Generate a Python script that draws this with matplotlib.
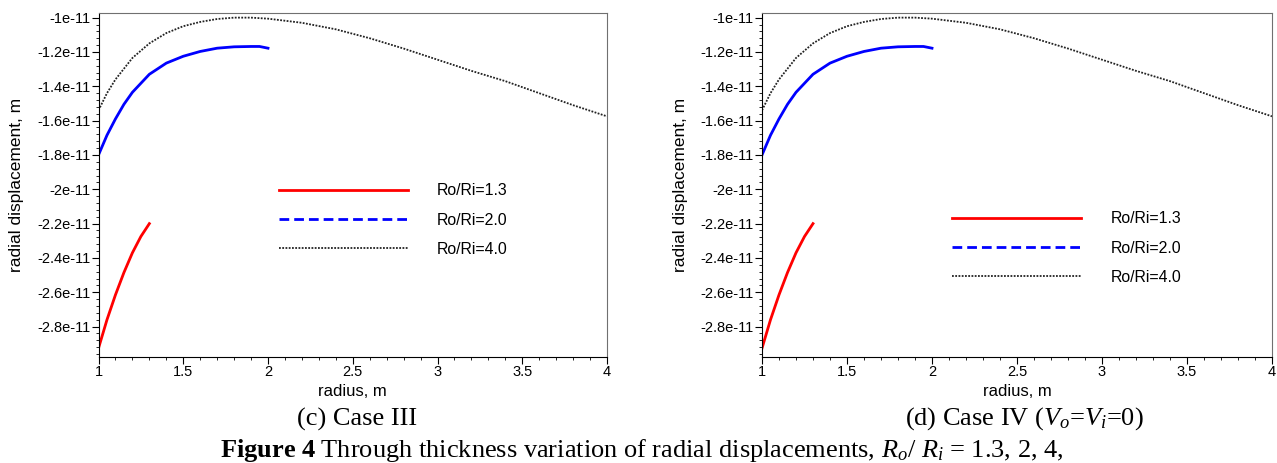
import matplotlib
matplotlib.use("Agg")
import matplotlib.pyplot as plt
from matplotlib.lines import Line2D
from matplotlib.ticker import MultipleLocator, FuncFormatter

plt.rcParams['font.family'] = ['Liberation Sans', 'DejaVu Sans']
plt.rcParams['mathtext.fontset'] = 'custom'
plt.rcParams['mathtext.rm'] = 'Liberation Serif'
plt.rcParams['mathtext.it'] = 'Liberation Serif:italic'
plt.rcParams['mathtext.bf'] = 'Liberation Serif:bold'

# radial displacement values, in units of 1e-11 m
r_13 = [1.0, 1.05, 1.10, 1.15, 1.20, 1.25, 1.30]
u_13 = [-2.926, -2.76, -2.615, -2.485, -2.37, -2.275, -2.20]

r_20 = [1.0, 1.05, 1.1, 1.15, 1.2, 1.3, 1.4, 1.5, 1.6, 1.7, 1.8, 1.9, 1.95, 2.0]
u_20 = [-1.80, -1.685, -1.59, -1.505, -1.435, -1.33, -1.265, -1.225,
        -1.197, -1.178, -1.170, -1.168, -1.168, -1.178]

r_40 = [1.0, 1.05, 1.1, 1.2, 1.3, 1.4, 1.5, 1.6, 1.7, 1.8, 1.9, 2.0, 2.2, 2.4,
        2.6, 2.8, 3.0, 3.2, 3.4, 3.6, 3.8, 4.0]
u_40 = [-1.54, -1.44, -1.36, -1.235, -1.15, -1.09, -1.05, -1.025, -1.008, -1.0,
        -1.0, -1.006, -1.03, -1.068, -1.12, -1.18, -1.245, -1.31, -1.37,
        -1.44, -1.51, -1.575]

labels = ['Ro/Ri=1.3', 'Ro/Ri=2.0', 'Ro/Ri=4.0']
panel_titles = ['(c) Case III', r'(d) Case IV ($V_o$=$V_i$=0)']

fig = plt.figure(figsize=(12.77, 4.63), dpi=100)

def fmt(v, pos):
    return '%ge-11' % round(v, 3)

W, H = 1277, 463
positions = [[98.5 / W, 106 / H, 508.5 / W, 344 / H],
             [762 / W, 106 / H, 510 / W, 344 / H]]
legend_anchor = [(0.327, 0.546), (0.345, 0.465)]
title_x = [357 / W, 1024 / W]

for i, pos in enumerate(positions):
    ax = fig.add_axes(pos)
    ax.plot(r_13, u_13, color='red', lw=2)
    ax.plot(r_20, u_20, color='blue', lw=2)
    ax.plot(r_40, u_40, color='#222222', lw=1.3, linestyle=(0, (1, 0.8)))
    ax.set_xlim(1, 4)
    ax.set_ylim(-2.977, -0.973)
    ax.xaxis.set_major_locator(MultipleLocator(0.5))
    ax.xaxis.set_minor_locator(MultipleLocator(0.1))
    ax.yaxis.set_major_locator(MultipleLocator(0.2))
    ax.yaxis.set_minor_locator(MultipleLocator(0.04))
    ax.xaxis.set_major_formatter(FuncFormatter(lambda v, p: '%g' % v))
    ax.yaxis.set_major_formatter(FuncFormatter(fmt))
    ax.tick_params(which='major', direction='out', length=5, labelsize=10.5, pad=1)
    ax.tick_params(which='minor', direction='out', length=2.5)
    for s in ['top', 'right']:
        ax.spines[s].set_color('#707070')
    ax.set_xlabel('radius, m', fontsize=12, labelpad=3)
    ax.set_ylabel('radial displacement, m', fontsize=12.5, labelpad=9)

    handles = [Line2D([], [], color='red', lw=2),
               Line2D([], [], color='blue', lw=2, linestyle=(0, (3.5, 1.8))),
               Line2D([], [], color='#222222', lw=1.3, linestyle=(0, (1, 0.8)))]
    ax.legend(handles, labels, loc='upper left', bbox_to_anchor=legend_anchor[i],
              frameon=False, fontsize=11.4, handlelength=8.15, handletextpad=1.84,
              labelspacing=0.9)

    fig.text(title_x[i], 1 - 419 / H, panel_titles[i], ha='center', va='center',
             fontsize=19, family='Liberation Serif')

fig.text(642 / W, 1 - 451 / H,
         r'$\mathbf{Figure\ 4}$ Through thickness variation of radial displacements, '
         r'$R_o$/ $R_i$ = 1.3, 2, 4,',
         ha='center', va='center', fontsize=19, family='Liberation Serif')

fig.savefig('out.png', dpi=100)
